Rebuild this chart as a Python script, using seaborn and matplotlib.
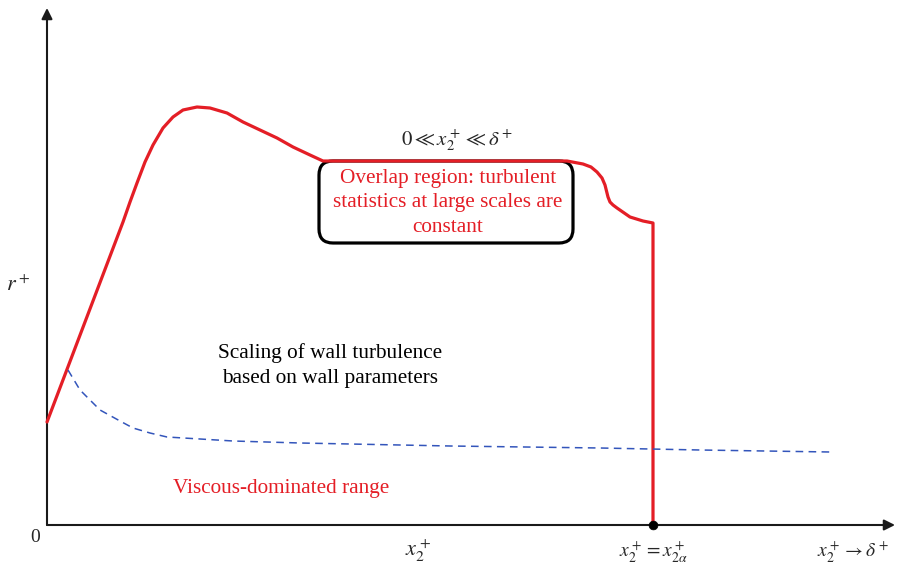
import matplotlib
matplotlib.use("Agg")
import matplotlib.pyplot as plt
from matplotlib.patches import FancyBboxPatch
import seaborn as sns

sns.set_theme(style="white")
plt.rcParams['font.family'] = ['Liberation Serif', 'DejaVu Serif']
plt.rcParams['mathtext.fontset'] = 'stix'

# Schematic curve (x2+ in schematic units, r+ in schematic units)
red_x = [0, 76, 83, 90, 98, 106, 116, 126, 136, 150, 163, 180, 196, 213, 230, 246, 263, 276, 283,
         520, 536, 544, 550, 555, 558, 561, 563, 566, 570, 583, 596, 606, 606]
red_r = [103, 303, 323, 342, 363, 380, 397, 408, 415, 418, 417, 412, 403, 395, 387, 378, 370, 364, 364,
         364, 361, 358, 353, 347, 340, 328, 323, 320, 317, 308, 304, 302, 0]

blue_x = [21, 33, 53, 73, 86, 103, 120, 153, 186, 253, 403, 553, 653, 783]
blue_r = [155, 135, 115, 104, 97, 92, 88, 86, 84, 82, 79, 77, 75, 73]

alpha_x = [606]
alpha_r = [0]

fig = plt.figure(figsize=(8.97, 5.66), dpi=100)
ax = fig.add_axes([0, 0, 1, 1])
ax.set_xlim(-47, 850)
ax.set_ylim(-41, 525)
ax.axis('off')

red = '#e41e26'
blue = '#3355bb'

# axes arrows
ax.annotate('', xy=(0, 517), xytext=(0, 0),
            arrowprops=dict(arrowstyle='-|>', lw=1.5, color='k', mutation_scale=16,
                            shrinkA=0, shrinkB=0))
ax.annotate('', xy=(848, 0), xytext=(0, 0),
            arrowprops=dict(arrowstyle='-|>', lw=1.5, color='k', mutation_scale=16,
                            shrinkA=0, shrinkB=0))

# overlap box
box = FancyBboxPatch((272, 282), 254, 82, boxstyle='round,pad=0,rounding_size=14',
                     fc='white', ec='black', lw=2.3, zorder=2)
ax.add_patch(box)

sns.lineplot(x=red_x, y=red_r, sort=False, estimator=None, color=red, lw=2.3, ax=ax, zorder=3)
ax.lines[-1].set_solid_joinstyle('round')
sns.lineplot(x=blue_x, y=blue_r, sort=False, estimator=None, color=blue, lw=1.1,
             dashes=False, ax=ax, zorder=3)
ax.lines[-1].set_dashes((5, 3.5))
sns.scatterplot(x=alpha_x, y=alpha_r, color='black', s=40, ax=ax, zorder=4, edgecolor='black')

fs = 15.3
ax.text(401, 322, 'Overlap region: turbulent\nstatistics at large scales are\nconstant',
        ha='center', va='center', color=red, fontsize=fs, linespacing=1.39, zorder=5)
ax.text(410, 385, r'$0 \ll x_2^+ \ll \delta^+$', ha='center', va='center', fontsize=15)
ax.text(283, 159.5, 'Scaling of wall turbulence\nbased on wall parameters', ha='center',
        va='center', color='black', fontsize=fs, linespacing=1.39)
ax.text(234, 37, 'Viscous-dominated range', ha='center', va='center', color=red, fontsize=fs)

ax.text(-12, -13, '0', ha='center', va='center', fontsize=14)
ax.text(-29, 239, r'$r^+$', ha='center', va='center', fontsize=16)
ax.text(371, -26, r'$x_2^+$', ha='center', va='center', fontsize=16)
ax.text(606, -26, r'$x_2^+ = x_{2\alpha}^+$', ha='center', va='center', fontsize=14)
ax.text(806, -26, r'$x_2^+ \rightarrow \delta^+$', ha='center', va='center', fontsize=14)

fig.savefig('out.png', dpi=100)
